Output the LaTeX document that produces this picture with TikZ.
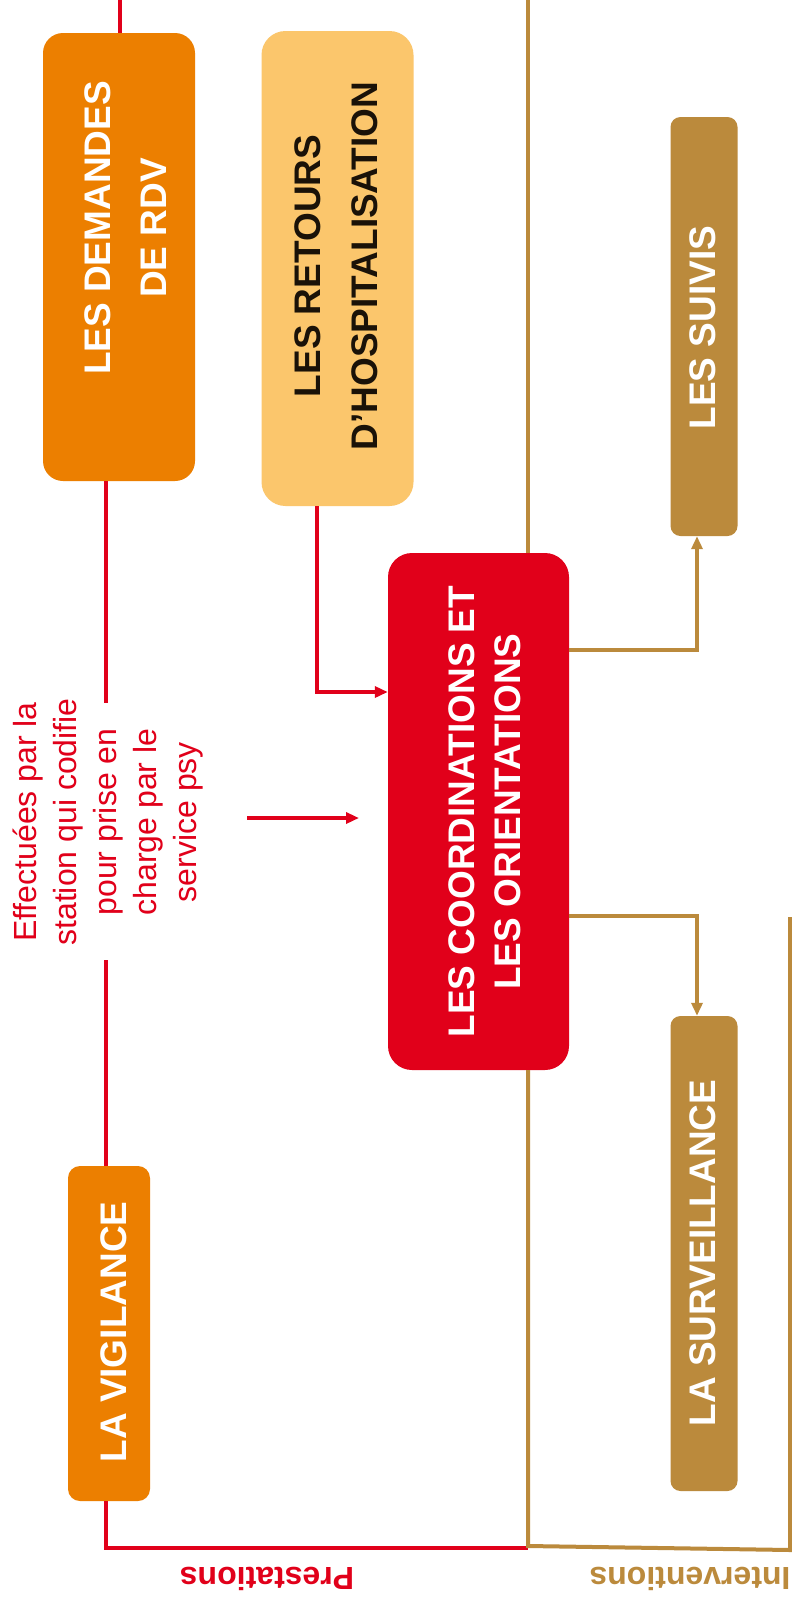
\documentclass[tikz,border=0pt]{standalone}
\usepackage{fontspec}
\setmainfont{Liberation Sans}
\usetikzlibrary{arrows.meta}
\definecolor{cOrange}{HTML}{EC7F00}
\definecolor{cLight}{HTML}{FBC66C}
\definecolor{cRed}{HTML}{E1001A}
\definecolor{cBrown}{HTML}{BB8A3C}
\definecolor{cDark}{HTML}{1A1208}
\begin{document}
\begin{tikzpicture}[x=1pt,y=-1pt,
  box/.style={draw=none, rounded corners=#1, inner sep=0pt},
  btext/.style={rotate=90, align=center, inner sep=0pt, font={\fontsize{37}{#1}\selectfont\bfseries}},
  redl/.style={draw=cRed, line width=4pt},
  brl/.style={draw=cBrown, line width=4pt},
  tip/.style={-{Triangle[length=13pt,width=11pt]}}]
\useasboundingbox[fill=white] (0,0) rectangle (792,1610);

% boxes
\node[box=20pt, fill=cOrange, minimum width=152pt, minimum height=448pt] (dem) at (119,257) {};
\node[box=24pt, fill=cLight, minimum width=152pt, minimum height=475pt] (ret) at (337.5,268.5) {};
\node[box=10pt, fill=cBrown, minimum width=67pt, minimum height=419pt] (suiv) at (704,326.5) {};
\node[box=24pt, fill=cRed, minimum width=181pt, minimum height=517pt] (coord) at (478.5,811.5) {};
\node[box=10pt, fill=cBrown, minimum width=67pt, minimum height=475pt] (surv) at (704,1253.5) {};
\node[box=12pt, fill=cOrange, minimum width=82pt, minimum height=335pt] (vig) at (109,1333.5) {};

% box texts
\node[btext=56, text=white] (demt) at (126,228) {LES DEMANDES\\DE RDV};
\node[btext=57, text=cDark] (rett) at (336.5,266) {LES RETOURS\\D’HOSPITALISATION};
\node[btext=46, text=white] (suivt) at (703,327.5) {LES SUIVIS};
\node[btext=46, text=white] (coordt) at (485,811.5) {LES COORDINATIONS ET\\LES ORIENTATIONS};
\node[btext=46, text=white] (survt) at (703,1253) {LA SURVEILLANCE};
\node[btext=46, text=white] (vigt) at (114,1332) {LA VIGILANCE};

% side note
\node[rotate=90, align=center, inner sep=0pt, text=cRed, font={\fontsize{32}{40}\selectfont}] (eff) at (108,822)
  {Effectuées par la\\station qui codifie\\pour prise en\\charge par le\\service psy};

% bottom labels
\node[rotate=180, inner sep=0pt, text=cRed, font={\fontsize{32}{38}\selectfont\bfseries}] (prest) at (267,1579) {Prestations};
\node[rotate=180, inner sep=0pt, text=cBrown, font={\fontsize{32}{38}\selectfont\bfseries}] (interv) at (690,1579) {Interventions};

% coordinates
\coordinate (rtop) at (120,0);
\coordinate (g1) at (106,703);
\coordinate (g2) at (106,960);
\coordinate (rb) at (106,1548);
\coordinate (rbe) at (528,1548);
\coordinate (btop) at (528,0);
\coordinate (bl) at (528,1546);
\coordinate (br) at (790,1550);
\coordinate (brt) at (790,917);
\coordinate (rc) at (317,692);
\coordinate (ma) at (247,818);
\coordinate (mb) at (359,818);
\coordinate (sc) at (697,650);
\coordinate (vc) at (697,916);

% red connectors
\draw[redl] (rtop) -- (dem.north -| rtop);
\draw[redl] (dem.south -| g1) -- (g1);
\draw[redl] (g2) -- (vig.north -| g2);
\draw[redl] (vig.south -| rb) -- (rb) -- (rbe);
\draw[redl, tip] (ret.south -| rc) -- (rc) -- (coord.west |- rc);
\draw[redl, tip] (ma) -- (mb);

% brown connectors
\draw[brl] (btop) -- (coord.north -| btop);
\draw[brl] (coord.south -| bl) -- (bl) -- (br) -- (brt);
\draw[brl, tip] (coord.east |- sc) -- (sc) -- (suiv.south -| sc);
\draw[brl, tip] (coord.east |- vc) -- (vc) -- (surv.north -| vc);
\end{tikzpicture}
\end{document}
